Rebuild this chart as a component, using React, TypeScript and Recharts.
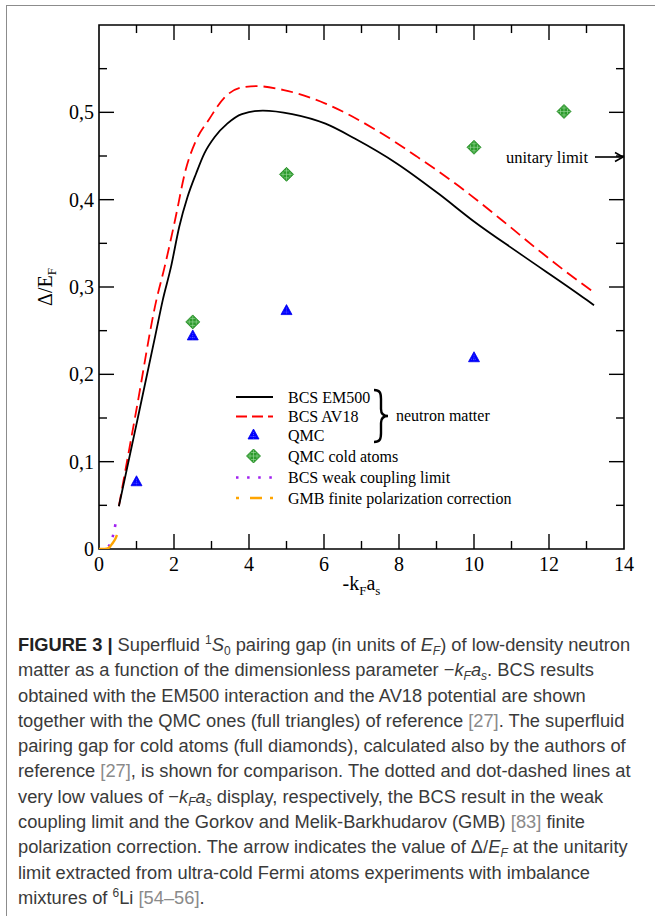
import React from 'react';
import { ComposedChart, Line, Scatter, XAxis, YAxis, ReferenceLine, ReferenceArea } from 'recharts';

// BCS curves
const em500 = [
  { x: 0.53, y: 0.049 }, { x: 1.0, y: 0.143 }, { x: 1.5, y: 0.244 }, { x: 1.7, y: 0.285 },
  { x: 1.92, y: 0.323 }, { x: 2.14, y: 0.369 }, { x: 2.36, y: 0.403 }, { x: 2.59, y: 0.43 },
  { x: 2.81, y: 0.453 }, { x: 3.09, y: 0.472 }, { x: 3.42, y: 0.487 }, { x: 3.81, y: 0.498 },
  { x: 4.37, y: 0.502 }, { x: 5.15, y: 0.498 }, { x: 6.04, y: 0.487 }, { x: 6.82, y: 0.47 },
  { x: 7.94, y: 0.4415 }, { x: 9.05, y: 0.407 }, { x: 10.0, y: 0.375 }, { x: 11.28, y: 0.3365 },
  { x: 13.01, y: 0.285 }, { x: 13.2, y: 0.279 },
];
const av18 = [
  { x: 0.53, y: 0.049 }, { x: 1.0, y: 0.16 }, { x: 1.53, y: 0.285 }, { x: 1.75, y: 0.323 },
  { x: 2.03, y: 0.377 }, { x: 2.31, y: 0.434 }, { x: 2.59, y: 0.468 }, { x: 2.92, y: 0.491 },
  { x: 3.37, y: 0.518 }, { x: 3.81, y: 0.5286 }, { x: 4.2, y: 0.53 }, { x: 4.93, y: 0.5255 },
  { x: 6.04, y: 0.51 }, { x: 7.38, y: 0.48 }, { x: 8.49, y: 0.449 }, { x: 9.61, y: 0.415 },
  { x: 10.73, y: 0.377 }, { x: 11.84, y: 0.338 }, { x: 13.12, y: 0.2964 }, { x: 13.2, y: 0.294 },
];
const weakCoupling = [
  { x: 0.25, y: 0.003 }, { x: 0.3, y: 0.006 }, { x: 0.35, y: 0.012 }, { x: 0.4, y: 0.02 }, { x: 0.45, y: 0.031 },
];
const gmb = [
  { x: 0, y: 0 }, { x: 0.15, y: 0 }, { x: 0.25, y: 0.001 }, { x: 0.3, y: 0.003 }, { x: 0.35, y: 0.006 },
  { x: 0.4, y: 0.009 }, { x: 0.45, y: 0.013 }, { x: 0.48, y: 0.016 },
];
const qmc = [{ x: 1, y: 0.077 }, { x: 2.5, y: 0.244 }, { x: 5, y: 0.273 }, { x: 10, y: 0.219 }];
const coldAtoms = [{ x: 2.5, y: 0.26 }, { x: 5, y: 0.429 }, { x: 10, y: 0.46 }, { x: 12.4, y: 0.501 }];

const xLabels = [0, 2, 4, 6, 8, 10, 12, 14];
const xMinor = [1, 3, 5, 7, 9, 11, 13];
const yLabels = [0, 0.1, 0.2, 0.3, 0.4, 0.5];
const yMinor = [0.05, 0.15, 0.25, 0.35, 0.45, 0.55];

const serif = "'Liberation Serif', 'Times New Roman', serif";

// tick lengths in data units (15px / 8px)
const XT = 0.4, XT2 = 0.213, YT = 0.0172, YT2 = 0.0092;

const Tri = (p: any) => {
  const { cx, cy } = p;
  return (
    <g>
      <polygon points={`${cx},${cy - 6} ${cx - 5.5},${cy + 4} ${cx + 5.5},${cy + 4}`} fill="#0000ff" stroke="#0000ee" strokeWidth={0.8} />
      <line x1={cx} y1={cy - 3} x2={cx} y2={cy + 3.5} stroke="#8080ff" strokeWidth={0.6} strokeDasharray="1 1" />
      <line x1={cx - 3} y1={cy + 1.5} x2={cx + 3} y2={cy + 1.5} stroke="#8080ff" strokeWidth={0.6} strokeDasharray="1 1" />
    </g>
  );
};

const Diamond = (p: any) => {
  const { cx, cy } = p;
  const r = 7;
  const offs = [-3.5, 0, 3.5];
  return (
    <g>
      <polygon points={`${cx},${cy - r} ${cx + r},${cy} ${cx},${cy + r} ${cx - r},${cy}`} fill="#2c9a2c" stroke="#1f8a1f" strokeWidth={0.8} />
      {offs.map((d) => (
        <g key={d}>
          <line x1={cx + d} y1={cy - (r - Math.abs(d)) + 1} x2={cx + d} y2={cy + (r - Math.abs(d)) - 1} stroke="#9fdc9f" strokeWidth={0.6} />
          <line x1={cx - (r - Math.abs(d)) + 1} y1={cy + d} x2={cx + (r - Math.abs(d)) - 1} y2={cy + d} stroke="#9fdc9f" strokeWidth={0.6} />
        </g>
      ))}
    </g>
  );
};

const fmtY = (v: number) => (v === 0 ? '0' : v.toFixed(1).replace('.', ','));

const legendRows = [
  { label: 'BCS EM500', y: 397 },
  { label: 'BCS AV18', y: 416.5 },
  { label: 'QMC', y: 435 },
  { label: 'QMC cold atoms', y: 456 },
  { label: 'BCS weak coupling limit', y: 477.5 },
  { label: 'GMB finite polarization correction', y: 498 },
];

const ref = { color: '#8a8a8a' };
const sup = { fontSize: 12, position: 'relative' as const, top: '-0.55em', lineHeight: 0 };
const sub = { fontSize: 12, position: 'relative' as const, top: '0.3em', lineHeight: 0 };

export default function App() {
  return (
    <div style={{ position: 'absolute', left: 0, top: 0, width: 655, height: 916, background: '#fff', overflow: 'hidden' }}>
      <div style={{ position: 'absolute', left: 6, top: 5, width: 700, height: 960, borderLeft: '1.5px solid #8c8c8c', borderTop: '1.5px solid #8c8c8c' }} />
      <div style={{ position: 'absolute', left: 0, top: 0 }}>
        <ComposedChart width={655} height={616} margin={{ top: 25, right: 31, left: 0, bottom: 0 }}>
          <XAxis type="number" dataKey="x" domain={[0, 14]} ticks={xLabels} interval={0} allowDataOverflow
            axisLine={false} tickLine={false} height={67} tickSize={6} tickMargin={2}
            tick={{ fontFamily: serif, fontSize: 20, fill: '#000' }} />
          <YAxis type="number" dataKey="y" domain={[0, 0.6]} ticks={yLabels} interval={0} allowDataOverflow
            axisLine={false} tickLine={false} width={99} tickSize={5} tickMargin={0} tickFormatter={fmtY}
            tick={{ fontFamily: serif, fontSize: 20, fill: '#000' }} />
          <ReferenceArea x1={0} x2={14} y1={0} y2={0.6} fill="none" stroke="#000" strokeWidth={1.6} ifOverflow="visible" />
          {xLabels.slice(1, -1).map((v) => (
            <ReferenceLine key={'xb' + v} segment={[{ x: v, y: 0 }, { x: v, y: YT }]} stroke="#000" strokeWidth={1.4} />
          ))}
          {xLabels.slice(1, -1).map((v) => (
            <ReferenceLine key={'xt' + v} segment={[{ x: v, y: 0.6 }, { x: v, y: 0.6 - YT }]} stroke="#000" strokeWidth={1.4} />
          ))}
          {xMinor.map((v) => (
            <ReferenceLine key={'xbm' + v} segment={[{ x: v, y: 0 }, { x: v, y: YT2 }]} stroke="#000" strokeWidth={1.4} />
          ))}
          {xMinor.map((v) => (
            <ReferenceLine key={'xtm' + v} segment={[{ x: v, y: 0.6 }, { x: v, y: 0.6 - YT2 }]} stroke="#000" strokeWidth={1.4} />
          ))}
          {yLabels.slice(1).map((v) => (
            <ReferenceLine key={'yl' + v} segment={[{ x: 0, y: v }, { x: XT, y: v }]} stroke="#000" strokeWidth={1.4} />
          ))}
          {yLabels.slice(1).map((v) => (
            <ReferenceLine key={'yr' + v} segment={[{ x: 14, y: v }, { x: 14 - XT, y: v }]} stroke="#000" strokeWidth={1.4} />
          ))}
          {yMinor.map((v) => (
            <ReferenceLine key={'ylm' + v} segment={[{ x: 0, y: v }, { x: XT2, y: v }]} stroke="#000" strokeWidth={1.4} />
          ))}
          {yMinor.map((v) => (
            <ReferenceLine key={'yrm' + v} segment={[{ x: 14, y: v }, { x: 14 - XT2, y: v }]} stroke="#000" strokeWidth={1.4} />
          ))}
          <Line data={av18} dataKey="y" type="monotone" stroke="#ff0000" strokeWidth={1.8} strokeDasharray="12 6" dot={false} isAnimationActive={false} />
          <Line data={em500} dataKey="y" type="monotone" stroke="#000" strokeWidth={1.8} dot={false} isAnimationActive={false} />
          <Line data={weakCoupling} dataKey="y" type="monotone" stroke="#a020f0" strokeWidth={2.6} strokeDasharray="2.5 8" dot={false} isAnimationActive={false} />
          <Line data={gmb} dataKey="y" type="monotone" stroke="#ffa500" strokeWidth={2.4} dot={false} isAnimationActive={false} />
          <Scatter data={qmc} dataKey="y" shape={Tri} isAnimationActive={false} />
          <Scatter data={coldAtoms} dataKey="y" shape={Diamond} isAnimationActive={false} />
        </ComposedChart>
      </div>
      <svg width={655} height={616} style={{ position: 'absolute', left: 0, top: 0, pointerEvents: 'none' }} fontFamily={serif}>
        <text transform="translate(52,287) rotate(-90)" textAnchor="middle" fontSize={20} fill="#000">
          Δ/E<tspan fontSize={13} dy={4}>F</tspan>
        </text>
        <text x={361.5} y={590} textAnchor="middle" fontSize={20} fill="#000">
          -k<tspan fontSize={13} dy={5}>F</tspan><tspan dy={-5}>a</tspan><tspan fontSize={13} dy={5}>s</tspan>
        </text>
        <text x={506} y={157} dominantBaseline="central" fontSize={16.5} fill="#000">unitary limit</text>
        <line x1={595} y1={157} x2={623} y2={157} stroke="#000" strokeWidth={1.6} />
        <polyline points="615,152.5 623,157 615,161.5" fill="none" stroke="#000" strokeWidth={1.6} />

        <line x1={236} y1={397} x2={273} y2={397} stroke="#000" strokeWidth={1.8} />
        <line x1={236} y1={416.5} x2={273} y2={416.5} stroke="#ff0000" strokeWidth={1.8} strokeDasharray="11 5" />
        <Tri cx={253.5} cy={435} />
        <Diamond cx={253.5} cy={456} />
        <line x1={236} y1={477.5} x2={273} y2={477.5} stroke="#a020f0" strokeWidth={2.6} strokeDasharray="2.5 8.6" />
        <line x1={236} y1={498} x2={273} y2={498} stroke="#ffa500" strokeWidth={2.4} strokeDasharray="3 11 12 8 3" />
        {legendRows.map((r) => (
          <text key={r.label} x={288} y={r.y} dominantBaseline="central" fontSize={16} fill="#000">{r.label}</text>
        ))}
        <path d="M374,390 C380,390 381,393 381,399 L381,409 C381,414 383,416 388,416 C383,416 381,418 381,423 L381,433 C381,439 380,442 374,442"
          fill="none" stroke="#000" strokeWidth={2.4} />
        <text x={396} y={415} dominantBaseline="central" fontSize={16} fill="#000">neutron matter</text>
      </svg>
      <div style={{ position: 'absolute', left: 18, top: 632, fontFamily: "'Liberation Sans', Arial, sans-serif", fontSize: 18.3, lineHeight: '25.3px', color: '#3a3a3a', whiteSpace: 'nowrap' }}>
        <div><b style={{ color: '#222' }}>FIGURE 3 |</b> Superfluid <span style={sup}>1</span><i>S</i><span style={sub}>0</span> pairing gap (in units of <i>E<span style={sub}>F</span></i>) of low-density neutron</div>
        <div>matter as a function of the dimensionless parameter −<i>k<span style={sub}>F</span>a<span style={sub}>s</span></i>. BCS results</div>
        <div>obtained with the EM500 interaction and the AV18 potential are shown</div>
        <div>together with the QMC ones (full triangles) of reference <span style={ref}>[27]</span>. The superfluid</div>
        <div>pairing gap for cold atoms (full diamonds), calculated also by the authors of</div>
        <div>reference <span style={ref}>[27]</span>, is shown for comparison. The dotted and dot-dashed lines at</div>
        <div>very low values of −<i>k<span style={sub}>F</span>a<span style={sub}>s</span></i> display, respectively, the BCS result in the weak</div>
        <div>coupling limit and the Gorkov and Melik-Barkhudarov (GMB) <span style={ref}>[83]</span> finite</div>
        <div>polarization correction. The arrow indicates the value of Δ/<i>E<span style={sub}>F</span></i> at the unitarity</div>
        <div>limit extracted from ultra-cold Fermi atoms experiments with imbalance</div>
        <div>mixtures of <span style={sup}>6</span>Li <span style={ref}>[54–56]</span>.</div>
      </div>
    </div>
  );
}
